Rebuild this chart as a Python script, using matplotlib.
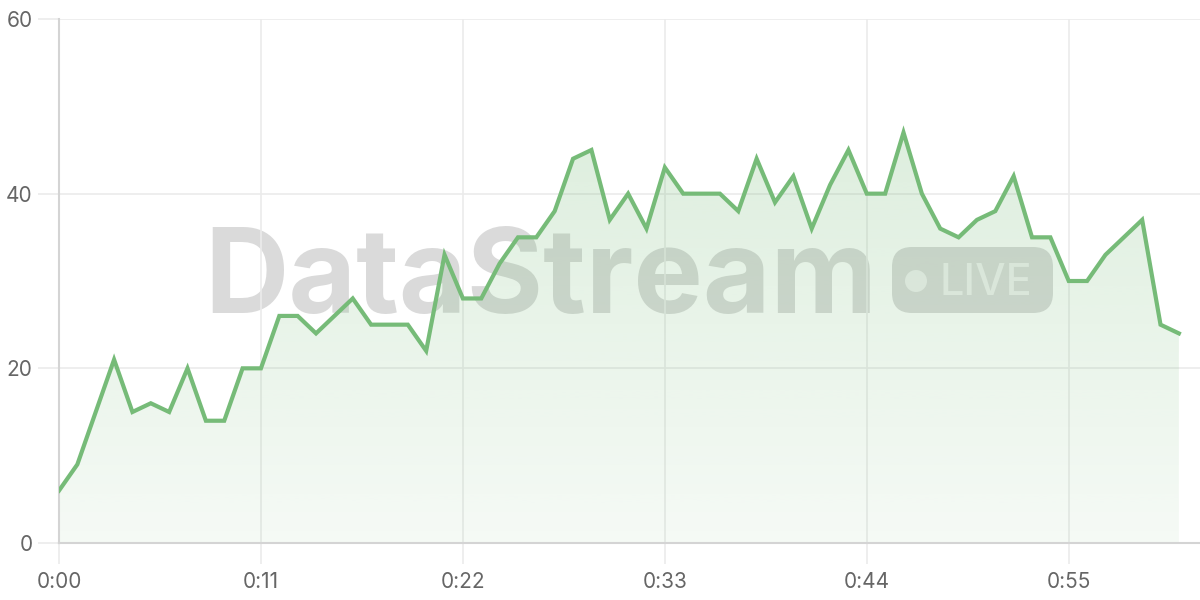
import numpy as np
import matplotlib.pyplot as plt
from matplotlib.patches import FancyBboxPatch, Polygon, Circle

# one sample per second
seconds = list(range(62))
values = [6, 9, 15, 21, 15, 16, 15, 20, 14, 14,
          20, 20, 26, 26, 24, 26, 28, 25, 25, 25,
          22, 33, 28, 28, 32, 35, 35, 38, 44, 45,
          37, 40, 36, 43, 40, 40, 40, 38, 44, 39,
          42, 36, 41, 45, 40, 40, 47, 40, 36, 35,
          37, 38, 42, 35, 35, 30, 30, 33, 35, 37,
          25, 24]
tick_pos = [0, 11, 22, 33, 44, 55]
tick_labels = ['0:00', '0:11', '0:22', '0:33', '0:44', '0:55']
y_ticks = [0, 20, 40, 60]

plt.rcParams['font.family'] = ['Inter', 'DejaVu Sans']

fig = plt.figure(figsize=(12, 6), dpi=100)
ax = fig.add_axes([59 / 1200, 57 / 600, 1 - 59 / 1200, 524 / 600])
ax.set_xlim(0, 62.15)
ax.set_ylim(0, 60)

line_col = '#76bb78'
wm_col = '#dadada'

# watermark, in inches from the lower left corner, under the fill
inch = fig.dpi_scale_trans
ax.text(5.41, 6 - 3.13, 'DataStream', transform=inch, fontsize=84, fontweight='bold',
        color=wm_col, ha='center', va='baseline', zorder=0.5)
pill = FancyBboxPatch((8.92, 6 - 3.13), 1.61, 0.66,
                      boxstyle='round,pad=0,rounding_size=0.2',
                      transform=inch, facecolor=wm_col, edgecolor='none',
                      zorder=0.5, clip_on=False)
ax.add_patch(pill)
ax.add_patch(Circle((9.16, 6 - 2.81), 0.11, transform=inch, facecolor='#f0f0f0',
                    edgecolor='none', zorder=0.6, clip_on=False))
ax.text(9.855, 6 - 2.95, 'LIVE', transform=inch, fontsize=31, fontweight='medium',
        color='#f0f0f0', ha='center', va='baseline', zorder=0.6)

# gradient fill under the line
grad = np.zeros((256, 1, 4))
grad[..., :3] = np.array([0x74, 0xba, 0x76]) / 255
grad[:, 0, 3] = np.linspace(0.07, 0.24, 256)
img = ax.imshow(grad, extent=[0, seconds[-1], 0, max(values)], origin='lower',
                aspect='auto', zorder=1, interpolation='bilinear')
verts = [(seconds[0], 0)] + list(zip(seconds, values)) + [(seconds[-1], 0)]
clip = Polygon(verts, closed=True, transform=ax.transData, facecolor='none', edgecolor='none')
ax.add_patch(clip)
img.set_clip_path(clip)

ax.plot(seconds, values, color=line_col, lw=3, zorder=3, solid_joinstyle='miter')

ax.set_xticks(tick_pos)
ax.set_xticklabels(tick_labels)
ax.set_yticks(y_ticks)
ax.grid(True, color='#ebebeb', lw=1.2, zorder=0)
ax.set_axisbelow(True)
ax.tick_params(axis='both', length=15, width=1.2, color='#ebebeb',
               labelsize=15, labelcolor='#666666')
ax.tick_params(axis='x', pad=6)
ax.tick_params(axis='y', pad=4)
for s in ['top', 'right']:
    ax.spines[s].set_visible(False)
for s in ['left', 'bottom']:
    ax.spines[s].set_color('#d4d4d4')
    ax.spines[s].set_linewidth(1.5)

fig.savefig('out.png', dpi=100)
